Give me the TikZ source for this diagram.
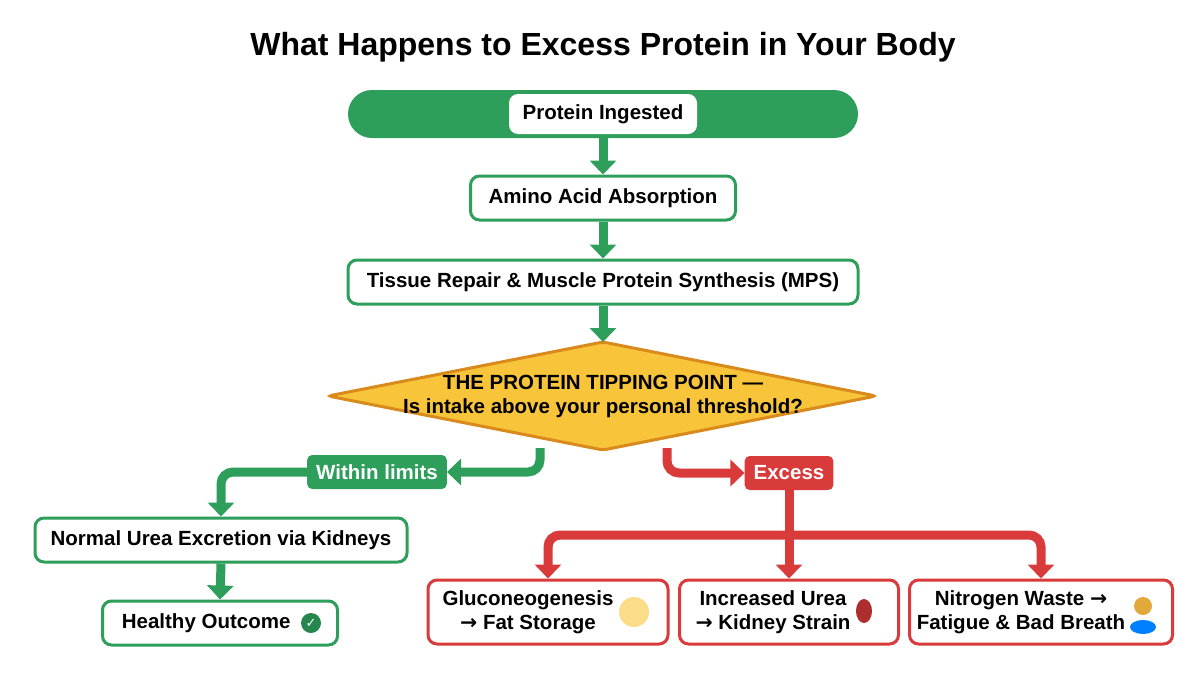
\documentclass[tikz,border=0pt]{standalone}
\usepackage{fontspec}
\setmainfont{Liberation Sans}
\newfontfamily\symfont{DejaVu Sans}
\usetikzlibrary{shapes.geometric,arrows.meta,positioning}
\definecolor{okgreen}{HTML}{2E9E5B}
\definecolor{badred}{HTML}{D93A3A}
\definecolor{tipyellow}{HTML}{F8C43A}
\definecolor{tipedge}{HTML}{D98A1C}
\newcommand{\toarrow}{{\symfont\char"2192}}
\begin{document}
\begin{tikzpicture}[x=1pt, y=-1pt, font=\fontsize{20.5}{24}\selectfont\bfseries,
    gbox/.style = {draw=okgreen, line width=3pt, fill=white, rounded corners=9pt, minimum height=44pt, inner xsep=14pt},
    rbox/.style = {draw=badred, line width=3pt, fill=white, rounded corners=9pt, minimum height=64pt, align=center},
    gflow/.style = {draw=okgreen, line width=9pt, -{Triangle[length=14pt,width=26pt]}},
    rflow/.style = {draw=badred, line width=9pt, rounded corners=12pt},
    tag/.style = {rounded corners=5pt, text=white, minimum height=34pt, inner xsep=9pt}]
  \useasboundingbox (0,0) rectangle (1204,672);
  \node (title) at (603,47) {\fontsize{32}{36}\selectfont What Happens to Excess Protein in Your Body};
  % main column
  \node[fill=okgreen, rounded corners=24pt, minimum width=510pt, minimum height=48pt] (top) at (603,114) {};
  \node[fill=white, rounded corners=9pt, minimum width=188pt, minimum height=40pt] (ingest) at (603,114) {Protein Ingested};
  \node[gbox, minimum width=265pt] (absorb) at (603,198) {Amino Acid Absorption};
  \node[gbox, minimum width=510pt] (repair) at (603,282) {Tissue Repair \& Muscle Protein Synthesis (MPS)};
  \draw[tipedge, fill=tipyellow, line width=3pt, rounded corners=4pt] (328,396) -- (603,342) -- (876,396) -- (603,450) -- cycle;
  \coordinate (tiptop) at (603,342);
  \node[align=center] (tip) at (603,396) {THE PROTEIN TIPPING POINT ---\\Is intake above your personal threshold?};
  \draw[gflow] (top.south) -- (absorb.north);
  \draw[gflow] (absorb.south) -- (repair.north);
  \draw[gflow] (repair.south) -- (tiptop);
  % within limits branch
  \node[tag, fill=okgreen] (within) at (377,472) {Within limits};
  \node[gbox, minimum width=372pt] (urea) at (221,540) {Normal Urea Excretion via Kidneys};
  \node[gbox, minimum width=235pt] (healthy) at (220,623) {Healthy Outcome \hspace*{22pt}};
  \node[circle, fill=okgreen!85!black, inner sep=1pt, minimum size=20pt, text=white] (check) at (311,623) {\symfont\fontsize{13}{13}\selectfont\char"2713};
  \coordinate (lturn) at (540,448);
  \draw[okgreen, line width=9pt, rounded corners=12pt, -{Triangle[length=14pt,width=26pt]}] (lturn) |- (within.east);
  \draw[okgreen, line width=9pt, rounded corners=12pt, -{Triangle[length=14pt,width=26pt]}] (within.west) -| (urea.north);
  \draw[gflow] (urea.south) -- (healthy.north);
  % excess branch
  \node[tag, fill=badred] (excess) at (789,473) {Excess};
  \node[rbox, minimum width=240pt] (gluco) at (548,612) {Gluconeogenesis\hspace*{40pt}\\\toarrow{} Fat Storage\hspace*{40pt}};
  \node[rbox, minimum width=219pt] (kidney) at (789,612) {Increased Urea\hspace*{32pt}\\\toarrow{} Kidney Strain\hspace*{32pt}};
  \node[rbox, minimum width=263pt] (nitro) at (1041,612) {Nitrogen Waste \toarrow\hspace*{40pt}\\Fatigue \& Bad Breath\hspace*{40pt}};
  \fill[tipyellow!60!white] (634,612) circle (15pt);
  \fill[badred!80!black] (864,611) ellipse (8pt and 12pt);
  \fill[tipyellow!60!brown] (1143,606) circle (9pt);
  \fill[blue!50!cyan] (1143,627) ellipse (13pt and 7pt);
  \coordinate (rturn) at (667,448);
  \coordinate (split) at (789,535);
  \draw[badred, line width=9pt, rounded corners=12pt, -{Triangle[length=14pt,width=26pt]}] (rturn) |- (excess.west);
  \draw[badred, line width=9pt] (excess.south) -- (split);
  \draw[rflow, -{Triangle[length=14pt,width=26pt]}] (split) -| (gluco.north);
  \draw[rflow, -{Triangle[length=14pt,width=26pt]}] (split) -| (nitro.north);
  \draw[badred, line width=9pt, -{Triangle[length=14pt,width=26pt]}] (split) -- (kidney.north);
\end{tikzpicture}
\end{document}
